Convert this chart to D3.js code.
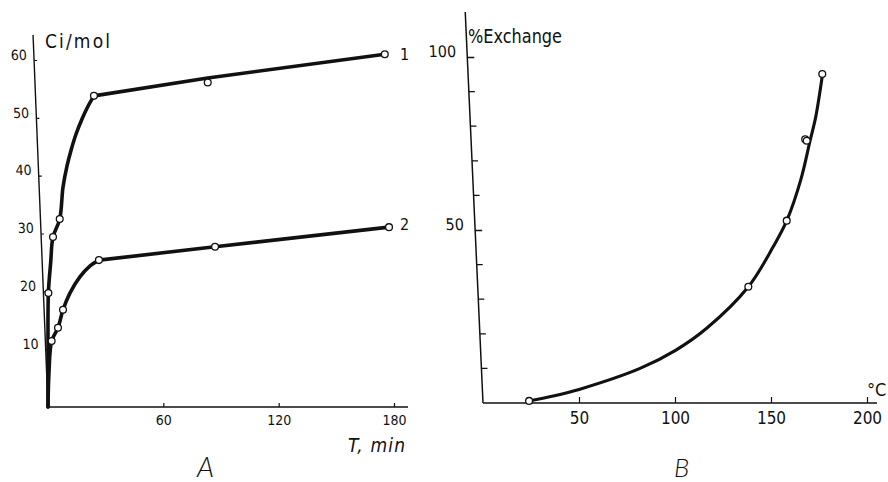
<!DOCTYPE html>
<html>
<head>
<meta charset="utf-8">
<script src="https://cdn.jsdelivr.net/npm/d3@7/dist/d3.min.js"></script>
<style>
  html, body { margin: 0; padding: 0; background: #fff; }
  svg { display: block; }
  text { fill: #111; }
</style>
</head>
<body>
<svg id="chart" width="888" height="482"></svg>
<script>
// ---------- DATA ----------
// Panel A: Ci/mol vs time (min)
const timeTicksA = [60, 120, 180];
const ciTicksA = [10, 20, 30, 40, 50, 60];
// curve 1 : measured points
const curve1Time = [0.2, 2.6, 6.1, 23.9, 83.1, 175.2];
const curve1Ci   = [19.7, 29.4, 32.5, 53.8, 56.1, 61.0];
// curve 1 : drawn line, rising part
const rise1Time = [0, 0, 0.2, 1.4, 2.6, 6.1, 7.8, 9.9, 12.0, 14.6, 17.7, 20.8, 23.9];
const rise1Ci   = [0, 10, 19.7, 25, 29.4, 32.5, 38.0, 41.7, 44.4, 47.2, 49.8, 52.0, 53.8];
// curve 1 : drawn line, straight part
const flat1Time = [23.9, 83.1, 175.2];
const flat1Ci   = [53.8, 56.9, 61.0];
// curve 2 : measured points
const curve2Time = [1.9, 5.2, 7.8, 26.5, 86.9, 177.4];
const curve2Ci   = [11.4, 13.7, 16.8, 25.4, 27.7, 31.1];
// curve 2 : drawn line, rising part
const rise2Time = [0, 0.5, 1.9, 5.2, 7.8, 11.4, 16.6, 21.9, 26.5];
const rise2Ci   = [0, 5.9, 11.4, 13.7, 16.8, 19.7, 22.5, 24.4, 25.4];
// curve 2 : drawn line, straight part
const flat2Time = [26.5, 86.9, 177.4];
const flat2Ci   = [25.4, 27.7, 31.1];
const curveLabels = ["1", "2"];

// Panel B: % Exchange vs temperature (°C)
const tempTicksB = [50, 100, 150, 200];
const exchTicksB = [50, 100];
const exchMinorB = [10, 20, 30, 40, 60, 70, 80, 90];
const pointTempB = [24, 138.2, 158.2, 167.8, 168.6, 176.7];
const pointExchB = [0.6, 33.6, 52.7, 76.2, 75.8, 95.1];
const lineTempB = [24, 36.5, 50.5, 81.8, 100.5, 116.5, 138.2, 151.2, 158.2, 165.5, 170.3, 173.3, 176.7];
const lineExchB = [0.6, 2.0, 4.0, 10.0, 15.3, 21.6, 33.6, 45.2, 52.7, 64.5, 75.7, 82.7, 94.5];

// ---------- DRAWING ----------
const svg = d3.select("#chart");
const numFont = "'DejaVu Sans Condensed', 'Liberation Sans Narrow', 'DejaVu Sans', sans-serif";
const zip = (a, b) => a.map((v, i) => [v, b[i]]);

function skewAxisGroup(x0, y0, deg) {
  return svg.append("g")
    .attr("transform", `translate(${x0},${y0}) skewX(${deg}) translate(0,${-y0})`);
}

// ===== Panel A =====
const xA = d3.scaleLinear().domain([0, 180]).range([48, 394]);
const yA = d3.scaleLinear().domain([0, 60]).range([407, 60]);

// x axis
const gxA = svg.append("g").attr("transform", `translate(0,${yA(0)})`);
gxA.call(d3.axisBottom(xA).tickValues(timeTicksA).tickSizeInner(-4).tickSizeOuter(0).tickPadding(8));
gxA.select(".domain").remove();
gxA.append("line").attr("x1", xA(0)).attr("x2", 408).attr("y1", 0).attr("y2", 0)
  .attr("stroke", "#111").attr("stroke-width", 1.5);
gxA.selectAll(".tick line").attr("stroke", "#111").attr("stroke-width", 1.2);
gxA.selectAll(".tick text").attr("font-family", numFont).attr("font-size", 14).attr("fill", "#111")
  .attr("dy", "0.71em");

// y axis (slanted as in the scan)
const gyA = skewAxisGroup(xA(0), yA(0), 2.3);
gyA.call(d3.axisLeft(yA).tickValues(ciTicksA).tickSizeInner(-3).tickSizeOuter(0).tickPadding(7));
gyA.select(".domain").remove();
gyA.append("line").attr("x1", 0).attr("x2", 0).attr("y1", 35).attr("y2", yA(0))
  .attr("stroke", "#111").attr("stroke-width", 1.4);
gyA.selectAll(".tick line").attr("stroke", "#111").attr("stroke-width", 1.2);
gyA.selectAll(".tick text").attr("font-family", numFont).attr("font-size", 14).attr("fill", "#111")
  .attr("dy", "-0.05em");

const smoothA = d3.line().x(d => xA(d[0])).y(d => yA(d[1])).curve(d3.curveCatmullRom.alpha(0.5));
const straightA = d3.line().x(d => xA(d[0])).y(d => yA(d[1]));
[[zip(rise1Time, rise1Ci), smoothA], [zip(flat1Time, flat1Ci), straightA],
 [zip(rise2Time, rise2Ci), smoothA], [zip(flat2Time, flat2Ci), straightA]].forEach(([pts, gen]) => {
  svg.append("path").datum(pts).attr("d", gen)
    .attr("fill", "none").attr("stroke", "#111").attr("stroke-width", 3.6)
    .attr("stroke-linejoin", "round").attr("stroke-linecap", "round");
});

[zip(curve1Time, curve1Ci), zip(curve2Time, curve2Ci)].forEach(pts => {
  svg.append("g").selectAll("circle").data(pts).join("circle")
    .attr("cx", d => xA(d[0])).attr("cy", d => yA(d[1])).attr("r", 3.4)
    .attr("fill", "#fff").attr("stroke", "#111").attr("stroke-width", 1.3);
});

// curve numbers
svg.append("text").attr("x", 400).attr("y", 60).attr("font-family", numFont).attr("font-size", 16)
  .text(curveLabels[0]);
svg.append("text").attr("x", 400).attr("y", 230).attr("font-family", numFont).attr("font-size", 16)
  .text(curveLabels[1]);

// axis titles A
svg.append("text").attr("x", 45).attr("y", 48).attr("font-family", numFont).attr("font-size", 19)
  .attr("textLength", 65).attr("lengthAdjust", "spacing").text("Ci/mol");
svg.append("text").attr("x", 348).attr("y", 452).attr("font-family", numFont).attr("font-size", 19)
  .attr("font-style", "italic").attr("textLength", 57).attr("lengthAdjust", "spacing").text("T, min");
svg.append("text").attr("x", 197).attr("y", 477).attr("font-family", "Lato, 'DejaVu Sans', sans-serif")
  .attr("font-weight", 300).attr("font-size", 28).attr("font-style", "italic").text("A");

// ===== Panel B =====
const xB = d3.scaleLinear().domain([0, 200]).range([483, 867]);
const yB = d3.scaleLinear().domain([0, 100]).range([403, 57]);

const gxB = svg.append("g").attr("transform", `translate(0,${yB(0)})`);
gxB.call(d3.axisBottom(xB).tickValues(tempTicksB).tickSizeInner(-6).tickSizeOuter(0).tickPadding(9));
gxB.select(".domain").remove();
gxB.append("line").attr("x1", xB(0)).attr("x2", 877).attr("y1", 0).attr("y2", 0)
  .attr("stroke", "#111").attr("stroke-width", 1.5);
gxB.selectAll(".tick line").attr("stroke", "#111").attr("stroke-width", 1.2);
gxB.selectAll(".tick text").attr("font-family", numFont).attr("font-size", 17).attr("fill", "#111")
  .attr("dy", "0.71em");

const gyB = skewAxisGroup(xB(0), yB(0), 2.6);
gyB.call(d3.axisLeft(yB).tickValues(exchTicksB).tickSizeInner(-7).tickSizeOuter(0).tickPadding(11));
gyB.select(".domain").remove();
gyB.append("line").attr("x1", 0).attr("x2", 0).attr("y1", 12).attr("y2", yB(0))
  .attr("stroke", "#111").attr("stroke-width", 1.5);
gyB.selectAll(".tick line").attr("stroke", "#111").attr("stroke-width", 1.3);
gyB.selectAll(".tick text").attr("font-family", numFont).attr("font-size", 16).attr("fill", "#111")
  .attr("dy", "-0.05em");
gyB.append("g").selectAll("line").data(exchMinorB).join("line")
  .attr("x1", 0).attr("x2", 6).attr("y1", d => yB(d)).attr("y2", d => yB(d))
  .attr("stroke", "#111").attr("stroke-width", 1.2);

const lineB = d3.line().x(d => xB(d[0])).y(d => yB(d[1])).curve(d3.curveCatmullRom.alpha(0.5));
svg.append("path").datum(zip(lineTempB, lineExchB)).attr("d", lineB)
  .attr("fill", "none").attr("stroke", "#111").attr("stroke-width", 3.1)
  .attr("stroke-linejoin", "round").attr("stroke-linecap", "round");

svg.append("g").selectAll("circle").data(zip(pointTempB, pointExchB)).join("circle")
  .attr("cx", d => xB(d[0])).attr("cy", d => yB(d[1])).attr("r", 3.4)
  .attr("fill", "#fff").attr("stroke", "#111").attr("stroke-width", 1.3);

svg.append("text").attr("x", 468).attr("y", 43).attr("font-family", numFont).attr("font-size", 20)
  .attr("textLength", 94).attr("lengthAdjust", "spacingAndGlyphs").text("%Exchange");
svg.append("text").attr("x", 867).attr("y", 396).attr("font-family", numFont).attr("font-size", 18)
  .text("°C");
svg.append("text").attr("x", 674).attr("y", 477).attr("font-family", "Lato, 'DejaVu Sans', sans-serif")
  .attr("font-weight", 300).attr("font-size", 26).attr("font-style", "italic").text("B");
</script>
</body>
</html>
